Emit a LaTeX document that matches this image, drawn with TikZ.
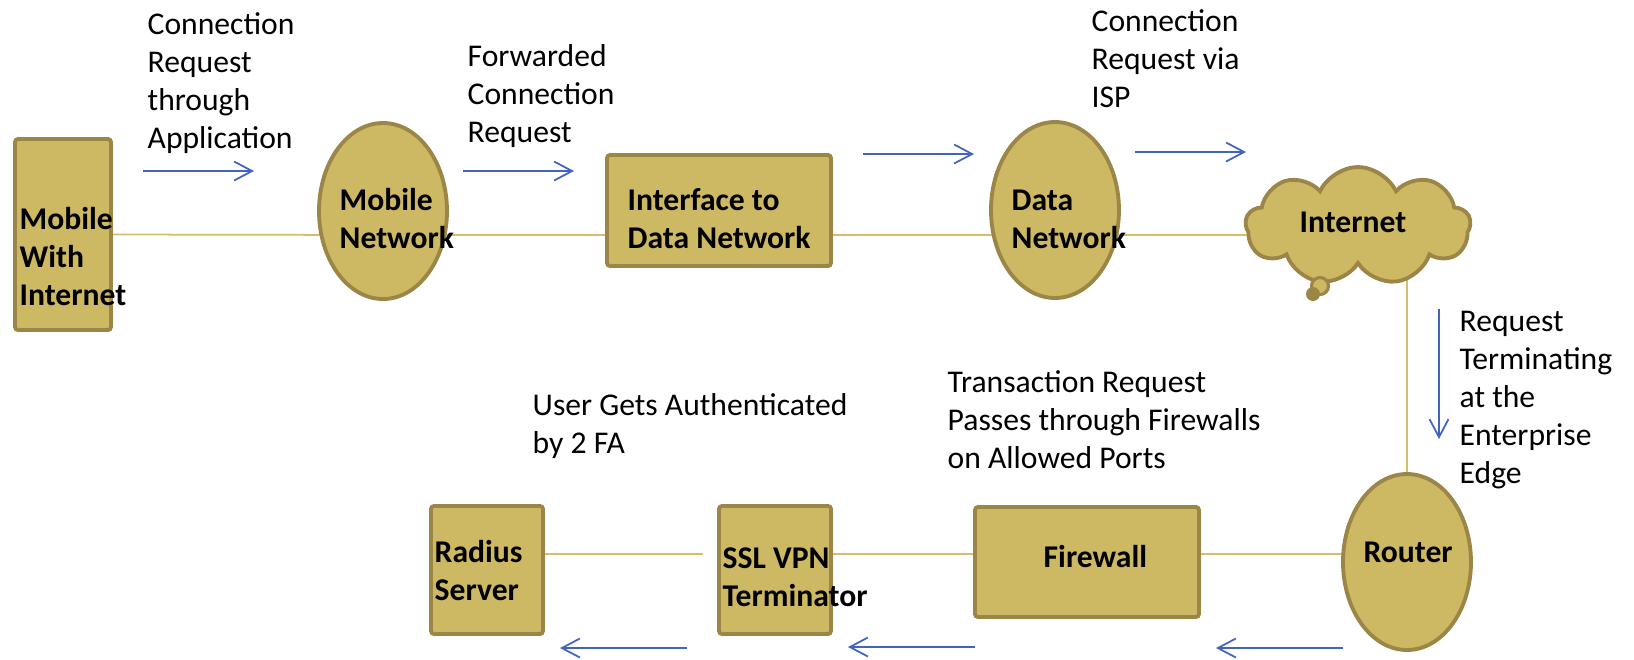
\documentclass[tikz,border=0pt]{standalone}
\usepackage{fontspec}
\setmainfont{Carlito}
\usetikzlibrary{shapes.geometric,shapes.symbols,arrows.meta,backgrounds}
\definecolor{khaki}{HTML}{CDB864}
\definecolor{khakiedge}{HTML}{9B8648}
\definecolor{linktan}{HTML}{D4BE6B}
\definecolor{flowblue}{HTML}{4264BE}
\begin{document}
\begin{tikzpicture}[x=0.1mm,y=-0.1mm,
    every node/.style={inner sep=0pt, font=\fontsize{9}{10.8}\selectfont},
    unit/.style={draw=khakiedge, fill=khaki, line width=1.1pt, rounded corners=0.3mm},
    blob/.style={ellipse, draw=khakiedge, fill=khaki, line width=1.1pt,
      minimum width=12.8mm, minimum height=17.6mm},
    heading/.style={align=left, anchor=base west,
      font=\bfseries\fontsize{9}{10.8}\selectfont},
    remark/.style={align=left, anchor=base west},
    link/.style={draw=linktan, line width=0.5pt},
    flow/.style={draw=flowblue, line width=0.5pt,
      -{Straight Barb[length=1.8mm,width=1.9mm]}}]
  \useasboundingbox (0,0) rectangle (1634,659);
  % shapes
  \node[unit, minimum width=9.6mm, minimum height=19.1mm] (mobile) at (63,234.5) {};
  \node[blob] (mobnet) at (383,211) {};
  \node[unit, minimum width=22.4mm, minimum height=11.1mm] (iface) at (719,210.5) {};
  \node[blob] (datanet) at (1055,210) {};
  \node[cloud, cloud puffs=9, cloud puff arc=130, draw=khakiedge, fill=khaki,
    line width=1.1pt, minimum width=22.5mm, minimum height=11.8mm] (inet) at (1358,226) {};
  \draw[khakiedge, fill=khaki, line width=0.9pt] (1320,286) circle (0.85mm);
  \fill[khakiedge] (1313,294) circle (0.7mm);
  \node[blob] (router) at (1407,562) {};
  \node[unit, minimum width=22.4mm, minimum height=11mm] (firewall) at (1087,562) {};
  \node[unit, minimum width=11.2mm, minimum height=12.8mm] (ssl) at (775,570) {};
  \node[unit, minimum width=11.2mm, minimum height=12.8mm] (radius) at (487,570) {};
  % labels
  \node[heading] (mobile text) at (19,305) {Mobile\\With\\Internet};
  \node[heading] (mobnet text) at (339,248) {Mobile\\Network};
  \node[heading] (iface text) at (627,248) {Interface to\\Data Network};
  \node[heading] (datanet text) at (1011,248) {Data\\Network};
  \node[heading] (inet text) at (1299,232) {Internet};
  \node[heading] (router text) at (1363,562) {Router};
  \node[heading] (firewall text) at (1043,567) {Firewall};
  \node[heading] (ssl text) at (722,606) {SSL VPN\\Terminator};
  \node[heading] (radius text) at (434,600) {Radius\\Server};
  % notes
  \node[remark] (app note) at (147,148) {Connection\\Request\\through\\Application};
  \node[remark] (fwd note) at (467,142) {Forwarded\\Connection\\Request};
  \node[remark] (isp note) at (1091,107) {Connection\\Request via\\ISP};
  \node[remark] (edge note) at (1459,483) {Request\\Terminating\\at the\\Enterprise\\Edge};
  \node[remark] (port note) at (947,468) {Transaction Request\\Passes through Firewalls\\on Allowed Ports};
  \node[remark] (auth note) at (532,453) {User Gets Authenticated\\by 2 FA};
  % links
  \coordinate (upper rail) at (0,235);
  \coordinate (lower rail) at (0,554);
  \begin{scope}[on background layer]
    \draw[link] (mobile.east) -- (mobnet.center |- upper rail);
    \draw[link] (mobnet.center |- upper rail) -- (iface.center |- upper rail);
    \draw[link] (iface.center |- upper rail) -- (datanet.center |- upper rail);
    \draw[link] (datanet.center |- upper rail) -- (inet.center |- upper rail);
    \draw[link] (router.center |- inet.center) -- (router.center);
    \draw[link] (router.center |- lower rail) -- (firewall.center |- lower rail);
    \draw[link] (firewall.center |- lower rail) -- (ssl.center |- lower rail);
    \draw[link, shorten >=1.4mm] (radius.center |- lower rail) -- (ssl.west |- lower rail);
  \end{scope}
  % flow arrows
  \coordinate (f1a) at (143,171); \coordinate (f1b) at (254,171);
  \coordinate (f2a) at (463,171); \coordinate (f2b) at (574,171);
  \coordinate (f3a) at (863,154); \coordinate (f3b) at (974,154);
  \coordinate (f4a) at (1135,152); \coordinate (f4b) at (1246,152);
  \coordinate (f5a) at (1439,309); \coordinate (f5b) at (1439,439);
  \coordinate (f6a) at (1343,648); \coordinate (f6b) at (1216,648);
  \coordinate (f7a) at (975,647); \coordinate (f7b) at (848,647);
  \coordinate (f8a) at (687,648); \coordinate (f8b) at (560,648);
  \draw[flow] (f1a) -- (f1b);
  \draw[flow] (f2a) -- (f2b);
  \draw[flow] (f3a) -- (f3b);
  \draw[flow] (f4a) -- (f4b);
  \draw[flow] (f5a) -- (f5b);
  \draw[flow] (f6a) -- (f6b);
  \draw[flow] (f7a) -- (f7b);
  \draw[flow] (f8a) -- (f8b);
\end{tikzpicture}
\end{document}
